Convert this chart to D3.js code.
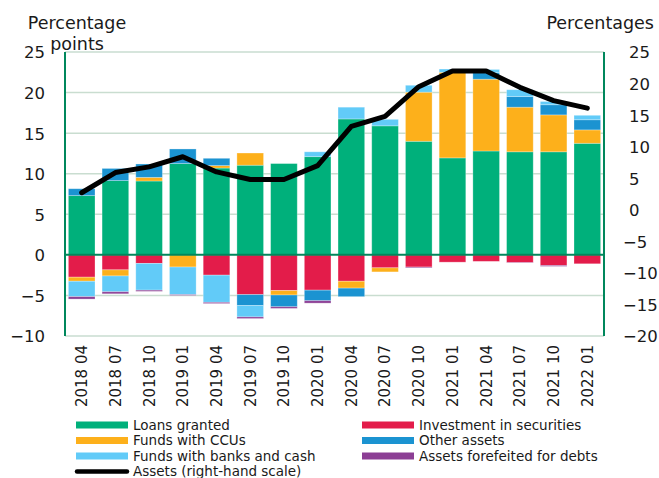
<!DOCTYPE html>
<html>
<head>
<meta charset="utf-8">
<script src="https://cdn.jsdelivr.net/npm/d3@7"></script>
<style>
body { margin: 0; background: #fff; }
text { font-family: "DejaVu Sans", Verdana, sans-serif; fill: #1a1a1a; }
</style>
</head>
<body>
<script>
// data
var dates = ["2018 04","2018 07","2018 10","2019 01","2019 04","2019 07","2019 10","2020 01",
	"2020 04","2020 07","2020 10","2021 01","2021 04","2021 07","2021 10","2022 01"];
var loans = [7.3, 9.15, 9.1, 11.25, 10.7, 11.05, 11.25, 12.1, 16.75, 15.9, 14.0, 11.95, 12.8, 12.7, 12.7, 13.75];
var securities = [-2.75, -1.85, -1.05, 0, -2.5, -4.9, -4.4, -4.35, -3.25, -1.6, -1.5, -0.9, -0.8, -0.95, -1.3, -1.1];
var ccus = [-0.5, -0.75, 0.45, -1.5, 0.3, 1.5, -0.55, 0, -0.85, -0.5, 6.05, 10.55, 8.85, 5.5, 4.55, 1.65];
var other = [0.85, 1.5, 1.65, 1.8, 0.9, -1.35, -1.45, -1.3, -1.05, 0, 0, 0, 0.8, 1.3, 1.25, 1.25];
var banks = [-1.9, -1.95, -3.3, -3.4, -3.35, -1.4, 0, 0.6, 1.45, 0.8, 0.85, 0.4, 0.4, 0.85, 0.4, 0.55];
var forfeited = [-0.3, -0.25, -0.15, -0.1, -0.15, -0.2, -0.2, -0.3, 0, 0, -0.1, 0, 0, -0.05, -0.12, 0];
var assets = [2.7, 5.9, 6.8, 8.4, 6.0, 4.8, 4.8, 7.0, 13.2, 14.8, 19.5, 22.0, 22.0, 19.4, 17.3, 16.1];

var leftTicks = [-10, -5, 0, 5, 10, 15, 20, 25];
var rightTicks = [-20, -15, -10, -5, 0, 5, 10, 15, 20, 25];

var series = [
	{key: "loans", name: "Loans granted", values: loans, color: "#00b07b"},
	{key: "securities", name: "Investment in securities", values: securities, color: "#e31c4a"},
	{key: "ccus", name: "Funds with CCUs", values: ccus, color: "#fdb01b"},
	{key: "other", name: "Other assets", values: other, color: "#1b93d1"},
	{key: "banks", name: "Funds with banks and cash", values: banks, color: "#62cbf8"},
	{key: "forfeited", name: "Assets forefeited for debts", values: forfeited, color: "#8c3e94"}
];

var width = 659, height = 478;
var margin = {top: 52, right: 55, bottom: 142, left: 65};

var svg = d3.select("body").append("svg")
	.attr("width", width)
	.attr("height", height);

// scales
var x = d3.scaleBand()
	.domain(dates)
	.range([margin.left, width - margin.right])
	.paddingInner(0.21)
	.paddingOuter(0.1);

var y = d3.scaleLinear()
	.domain([-10, 25])
	.range([height - margin.bottom, margin.top]);

var y2 = d3.scaleLinear()
	.domain([-20, 25])
	.range([height - margin.bottom, margin.top]);

// table for the stack
var table = dates.map(function(d, i){
	var row = {date: d};
	series.forEach(function(s){ row[s.key] = s.values[i]; });
	return row;
});

var stack = d3.stack()
	.keys(series.map(function(s){ return s.key; }))
	.offset(d3.stackOffsetDiverging);

// gridlines
svg.append("g")
	.selectAll("line")
	.data(leftTicks.filter(function(t){ return t !== 0; }))
	.enter().append("line")
	.attr("x1", margin.left)
	.attr("x2", width - margin.right)
	.attr("y1", function(d){ return y(d); })
	.attr("y2", function(d){ return y(d); })
	.attr("stroke", "#c9ddd0")
	.attr("stroke-width", 1.5);

// bars
var colorOf = {};
series.forEach(function(s){ colorOf[s.key] = s.color; });

var layer = svg.append("g")
	.selectAll("g")
	.data(stack(table))
	.enter().append("g")
	.attr("fill", function(d){ return colorOf[d.key]; });

layer.selectAll("rect")
	.data(function(d){ return d; })
	.enter().append("rect")
	.attr("x", function(d){ return x(d.data.date); })
	.attr("width", x.bandwidth())
	.attr("y", function(d){ return y(Math.max(d[0], d[1])); })
	.attr("height", function(d){ return Math.abs(y(d[0]) - y(d[1])); })
	.attr("stroke", "#fff")
	.attr("stroke-opacity", 0.35)
	.attr("stroke-width", 0.8);

// zero line and frame
svg.append("line")
	.attr("x1", margin.left).attr("x2", width - margin.right)
	.attr("y1", y(0)).attr("y2", y(0))
	.attr("stroke", "#00875c").attr("stroke-width", 2);

svg.append("line")
	.attr("x1", margin.left).attr("x2", margin.left)
	.attr("y1", y(25)).attr("y2", y(-10))
	.attr("stroke", "#00875c").attr("stroke-width", 2);

svg.append("line")
	.attr("x1", width - margin.right).attr("x2", width - margin.right)
	.attr("y1", y(25)).attr("y2", y(-10))
	.attr("stroke", "#00875c").attr("stroke-width", 2);

// assets line
var line = d3.line()
	.x(function(d, i){ return x(dates[i]) + x.bandwidth() / 2; })
	.y(function(d){ return y2(d); });

svg.append("path")
	.datum(assets)
	.attr("d", line)
	.attr("fill", "none")
	.attr("stroke", "#000")
	.attr("stroke-width", 5)
	.attr("stroke-linejoin", "round")
	.attr("stroke-linecap", "round");

// left axis
var fmt = d3.format("d");
var yAxis = svg.append("g")
	.attr("transform", "translate(45,0)")
	.call(d3.axisLeft(y).tickValues(leftTicks).tickFormat(fmt).tickSize(0).tickPadding(0));
yAxis.select(".domain").remove();
yAxis.selectAll("text")
	.style("font-size", "16.5px")
	.attr("dy", "0.36em");

// right axis, digits aligned, minus hangs left
var y2Axis = svg.append("g")
	.attr("transform", "translate(629,0)")
	.call(d3.axisRight(y2).tickValues(rightTicks).tickFormat(fmt).tickSize(0).tickPadding(0));
y2Axis.select(".domain").remove();
y2Axis.selectAll("text")
	.style("font-size", "16.5px")
	.attr("dy", "0.36em")
	.attr("x", function(d){ return d < 0 ? -6 : 0; });

// x axis labels
var xAxis = svg.append("g")
	.attr("transform", "translate(0," + (height - margin.bottom) + ")")
	.call(d3.axisBottom(x).tickSize(0).tickPadding(0));
xAxis.select(".domain").remove();
xAxis.selectAll("text")
	.style("font-size", "15px")
	.attr("text-anchor", "end")
	.attr("transform", "rotate(-90)")
	.attr("x", -9)
	.attr("y", 0)
	.attr("dy", "0.36em");

// axis titles
svg.append("text")
	.attr("x", 77).attr("y", 29)
	.attr("text-anchor", "middle")
	.style("font-size", "17.5px")
	.text("Percentage");
svg.append("text")
	.attr("x", 77).attr("y", 50)
	.attr("text-anchor", "middle")
	.style("font-size", "17.5px")
	.text("points");
svg.append("text")
	.attr("x", 654).attr("y", 29)
	.attr("text-anchor", "end")
	.style("font-size", "17.5px")
	.text("Percentages");

// legend
var legendItems = [
	{s: series[0], col: 0, row: 0},
	{s: series[1], col: 1, row: 0},
	{s: series[2], col: 0, row: 1},
	{s: series[3], col: 1, row: 1},
	{s: series[4], col: 0, row: 2},
	{s: series[5], col: 1, row: 2}
];
var colX = [76, 362], rowY = [425, 440.5, 456, 471.5];

var lg = svg.append("g")
	.selectAll("g")
	.data(legendItems)
	.enter().append("g")
	.attr("transform", function(d){ return "translate(" + colX[d.col] + "," + rowY[d.row] + ")"; });

lg.append("rect")
	.attr("x", 0).attr("y", -3.5)
	.attr("width", 52).attr("height", 7)
	.attr("fill", function(d){ return d.s.color; });

lg.append("text")
	.attr("x", 57).attr("dy", "0.36em")
	.style("font-size", "13.5px")
	.text(function(d){ return d.s.name; });

var lineLegend = svg.append("g")
	.attr("transform", "translate(" + colX[0] + "," + rowY[3] + ")");
lineLegend.append("line")
	.attr("x1", 1).attr("x2", 51)
	.attr("stroke", "#000").attr("stroke-width", 4.5)
	.attr("stroke-linecap", "round");
lineLegend.append("text")
	.attr("x", 57).attr("dy", "0.36em")
	.style("font-size", "13.5px")
	.text("Assets (right-hand scale)");
</script>
</body>
</html>
